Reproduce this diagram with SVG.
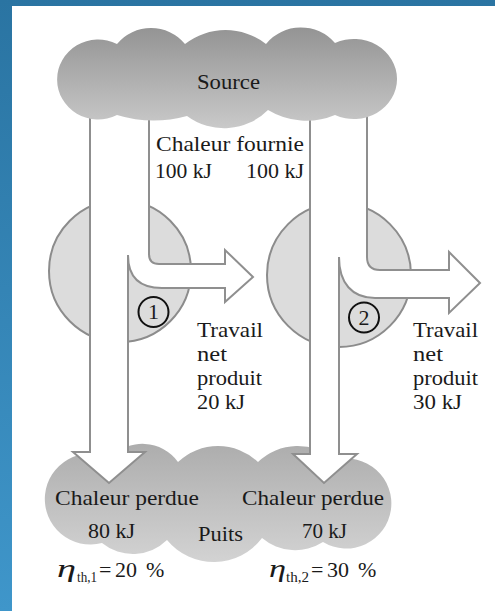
<svg xmlns="http://www.w3.org/2000/svg" width="495" height="611" viewBox="0 0 495 611">
<defs>
<linearGradient id="frame" x1="0" y1="0" x2="0" y2="611" gradientUnits="userSpaceOnUse">
<stop offset="0" stop-color="#2a74a2"/>
<stop offset="1" stop-color="#3f96ca"/>
</linearGradient>
<linearGradient id="gSource" x1="0" y1="28" x2="0" y2="128" gradientUnits="userSpaceOnUse">
<stop offset="0" stop-color="#949494"/>
<stop offset="1" stop-color="#c9c9c9"/>
</linearGradient>
<linearGradient id="gSink" x1="0" y1="444" x2="0" y2="562" gradientUnits="userSpaceOnUse">
<stop offset="0" stop-color="#adadad"/>
<stop offset="1" stop-color="#d3d3d3"/>
</linearGradient>
</defs>
<style>
text{font-family:"Liberation Serif","Times New Roman",serif;font-size:22px;fill:#1a1a1a}
.engine{fill:#dcdcdc;stroke:#8c8c8c;stroke-width:2}
.flow{fill:#ffffff;stroke:#8f8f8f;stroke-width:2}
.num{fill:none;stroke:#111;stroke-width:2}
</style>
<rect x="0" y="0" width="495" height="611" fill="url(#frame)"/>
<rect x="12" y="6" width="483" height="605" fill="#ffffff"/>

<g id="sink">
<path fill="url(#gSink)" d="M102,543 A45.5,45.5 0 1 1 110,458 A44,44 0 0 1 178,462 A58,58 0 0 1 258,462 A57,57 0 0 1 335,460 A45,45 0 1 1 323,542 A51.5,51.5 0 0 1 262,538 A60.5,60.5 0 0 1 167,540 A48.5,48.5 0 0 1 102,543 Z"/>
<text x="55" y="505" textLength="144" lengthAdjust="spacingAndGlyphs">Chaleur perdue</text>
<text x="88" y="538" textLength="47" lengthAdjust="spacingAndGlyphs">80 kJ</text>
<text x="198" y="541" textLength="45" lengthAdjust="spacingAndGlyphs">Puits</text>
<text x="242" y="505" textLength="142" lengthAdjust="spacingAndGlyphs">Chaleur perdue</text>
<text x="302" y="538" textLength="45" lengthAdjust="spacingAndGlyphs">70 kJ</text>
</g>

<g id="engine1">
<circle class="engine" cx="120" cy="271" r="71"/>
<circle class="num" cx="153.5" cy="312" r="15"/>
<text x="153.5" y="319" text-anchor="middle" font-size="20">1</text>
</g>

<g id="engine2">
<circle class="engine" cx="339" cy="275" r="72"/>
<circle class="num" cx="364" cy="317.5" r="15"/>
<text x="364" y="324.5" text-anchor="middle" font-size="20">2</text>
</g>

<g id="connectors">
<path class="flow" d="M90,100 L149,100 L149,254 Q149,264 159,264 L225,264 L225,250 L253,277 L225,302 L225,288 L162,288 C140,288 128,278 128,255 L128,452 L145,452 L109,483 L73,452 L90,452 Z"/>
<path class="flow" d="M310,100 L367,100 L367,257 Q367,270 380,270 L449,270 L449,252 L480,283 L449,313 L449,298 L375,298 C352,298 339,283 339,257 L339,454 L357,454 L324,483 L293,454 L310,454 Z"/>
</g>

<g id="source">
<path fill="url(#gSource)" d="M117,115 A41,40 0 1 1 117,44 A44,44 0 0 1 185,44 A66,66 0 0 1 266,44 A45,45 0 0 1 335,43 A43.2,40 0 1 1 335,115 A74,74 0 0 1 268,110 A62,62 0 0 1 187,116 A125,125 0 0 1 117,115 Z"/>
<text x="197" y="89" textLength="63" lengthAdjust="spacingAndGlyphs">Source</text>
</g>

<g id="labels">
<text x="156" y="151" textLength="148" lengthAdjust="spacingAndGlyphs">Chaleur fournie</text>
<text x="155" y="178" textLength="57" lengthAdjust="spacingAndGlyphs">100 kJ</text>
<text x="246" y="178" textLength="58" lengthAdjust="spacingAndGlyphs">100 kJ</text>
<text x="197" y="337" textLength="66" lengthAdjust="spacingAndGlyphs">Travail</text>
<text x="197" y="361" textLength="30" lengthAdjust="spacingAndGlyphs">net</text>
<text x="197" y="385" textLength="65" lengthAdjust="spacingAndGlyphs">produit</text>
<text x="197" y="409" textLength="48" lengthAdjust="spacingAndGlyphs">20 kJ</text>
<text x="413" y="337" textLength="65" lengthAdjust="spacingAndGlyphs">Travail</text>
<text x="413" y="361" textLength="30" lengthAdjust="spacingAndGlyphs">net</text>
<text x="413" y="385" textLength="65" lengthAdjust="spacingAndGlyphs">produit</text>
<text x="413" y="409" textLength="49" lengthAdjust="spacingAndGlyphs">30 kJ</text>
<text y="577"><tspan x="57" font-style="italic" font-size="26" textLength="19" lengthAdjust="spacingAndGlyphs">η</tspan><tspan x="77" y="582" font-size="15" textLength="20" lengthAdjust="spacingAndGlyphs">th,1</tspan><tspan x="99" y="577">=</tspan><tspan x="115">20</tspan><tspan x="146">%</tspan></text>
<text y="577"><tspan x="269" font-style="italic" font-size="26" textLength="17" lengthAdjust="spacingAndGlyphs">η</tspan><tspan x="286" y="582" font-size="15" textLength="23" lengthAdjust="spacingAndGlyphs">th,2</tspan><tspan x="311" y="577">=</tspan><tspan x="327">30</tspan><tspan x="358">%</tspan></text>
</g>
</svg>
